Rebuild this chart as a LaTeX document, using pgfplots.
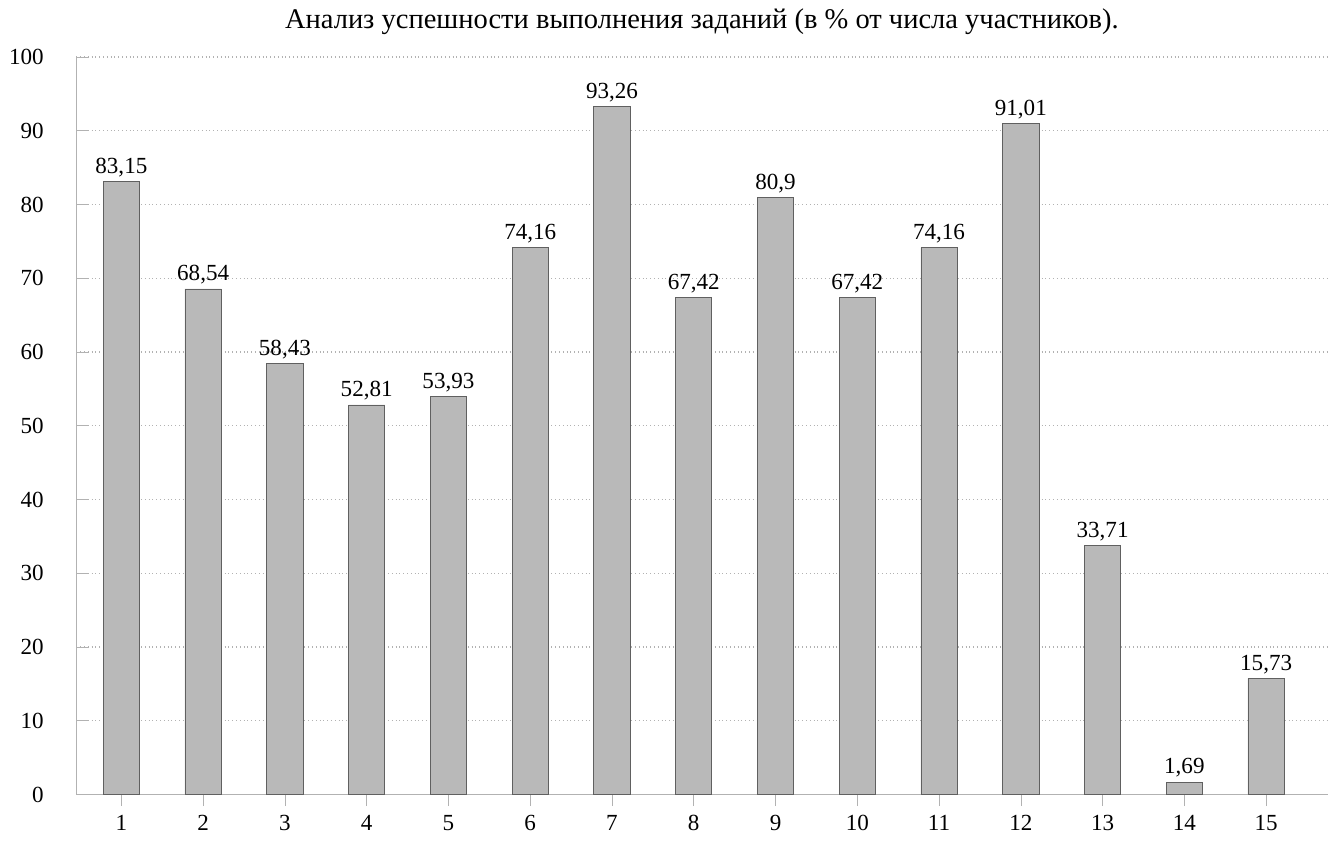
\documentclass[border=0pt]{standalone}
\usepackage{pgfplots}
\pgfplotsset{compat=1.18}
\usepackage{fontspec}
\setmainfont{Liberation Serif}
\begin{document}
\begin{tikzpicture}
\begin{axis}[
    scale only axis,
    width=16.2cm,
    height=9.55cm,
    ybar,
    bar width=0.47cm,
    xmin=0.45, xmax=15.75,
    ymin=0, ymax=100,
    xtick={1,...,15},
    ytick={0,10,...,100},
    axis x line*=bottom,
    axis y line*=left,
    axis line style={gray!60},
    major tick style={gray!60},
    ymajorgrids,
    grid style={gray!60, densely dotted},
    tick label style={font=\fontsize{8.5}{10}\selectfont},
    yticklabel style={xshift=-0.3cm},
    /pgf/number format/assume math mode=true,
    /pgf/number format/use comma,
    nodes near coords,
    every node near coord/.append style={font=\fontsize{8.5}{10}\selectfont, inner sep=1.5pt, /pgf/number format/fixed, /pgf/number format/precision=2},
    title={Анализ успешности выполнения заданий (в \% от числа участников).},
    title style={font=\fontsize{10.5}{12}\selectfont, yshift=-0.05cm},
]
\addplot[draw=gray!75!black, fill=gray!55, line width=0.3pt] coordinates {
    (1,83.15) (2,68.54) (3,58.43) (4,52.81) (5,53.93)
    (6,74.16) (7,93.26) (8,67.42) (9,80.9) (10,67.42)
    (11,74.16) (12,91.01) (13,33.71) (14,1.69) (15,15.73)
};
\end{axis}
\end{tikzpicture}
\end{document}
